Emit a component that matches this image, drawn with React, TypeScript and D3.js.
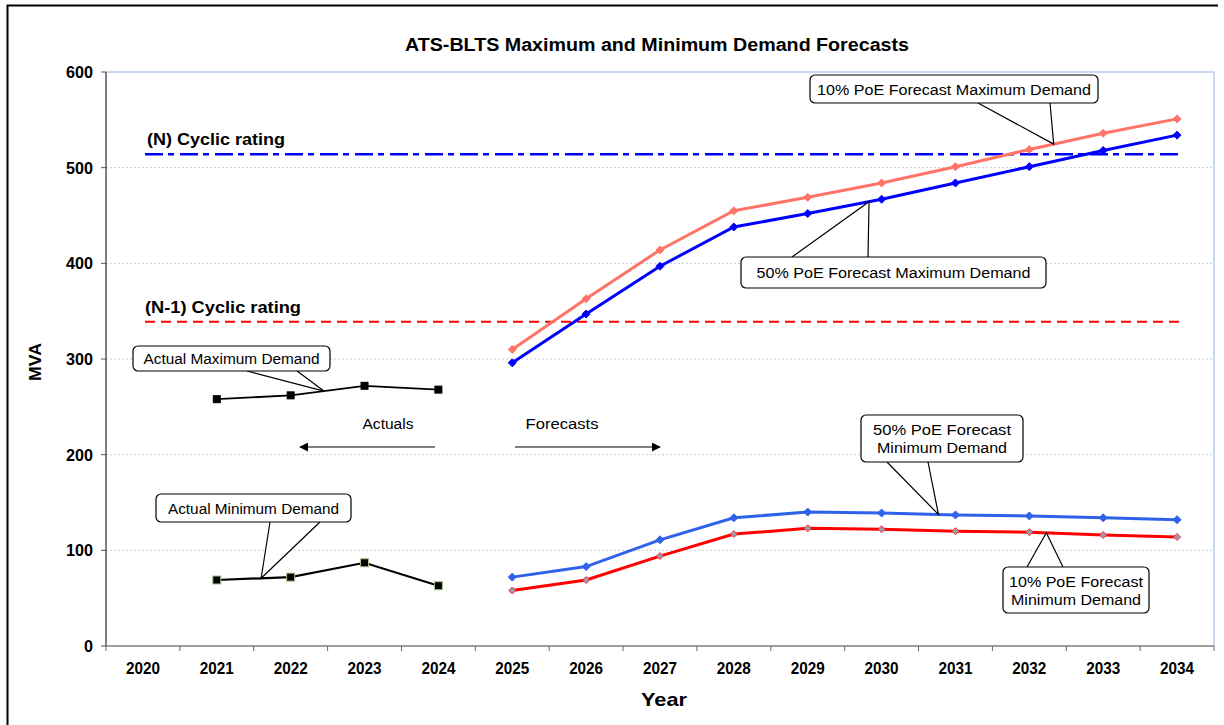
import React from "react";
import * as d3 from "d3";

// Category axis
const years = ["2020", "2021", "2022", "2023", "2024", "2025", "2026", "2027", "2028", "2029", "2030", "2031", "2032", "2033", "2034"];
const yTicks = [0, 100, 200, 300, 400, 500, 600];

// Historical demand (MVA)
const actualYears = ["2021", "2022", "2023", "2024"];
const actualMax = [258, 262, 272, 268];
const actualMin = [69, 72, 87, 63];

// Forecast demand (MVA)
const forecastYears = ["2025", "2026", "2027", "2028", "2029", "2030", "2031", "2032", "2033", "2034"];
const poe10Max = [310, 363, 414, 455, 469, 484, 501, 519, 536, 551];
const poe50Max = [296, 347, 397, 438, 452, 467, 484, 501, 518, 534];
const poe50Min = [72, 83, 111, 134, 140, 139, 137, 136, 134, 132];
const poe10Min = [58, 69, 94, 117, 123, 122, 120, 119, 116, 114];

// Ratings (MVA)
const nCyclic = 514;
const n1Cyclic = 339;

const FONT = "'Liberation Sans', Arial, sans-serif";

const W = 1224;
const H = 725;
const plot = { left: 106, right: 1214, top: 72, bottom: 646 };

const x = d3.scaleBand<string>().domain(years).range([plot.left, plot.right]).padding(0);
const y = d3.scaleLinear().domain([0, 600]).range([plot.bottom, plot.top]);
const cx = (yr: string) => (x(yr) as number) + x.bandwidth() / 2;
const cxNum = (yr: number) => cx("2020") + (yr - 2020) * x.step();

type Pt = [string, number];
const zipPts = (ys: string[], vs: number[]): Pt[] => ys.map((yr, i) => [yr, vs[i]]);

const line = d3
  .line<Pt>()
  .x((d) => cx(d[0]))
  .y((d) => y(d[1]));

// point on a series at a fractional year (used for callout tips)
function along(ys: string[], vs: number[], yr: number): [number, number] {
  const nums = ys.map(Number);
  const i = Math.max(0, Math.min(nums.length - 2, Math.floor(yr - nums[0])));
  const t = yr - nums[i];
  const v = vs[i] + (vs[i + 1] - vs[i]) * t;
  return [cxNum(yr), y(v)];
}

function Markers({ pts, kind, fill, stroke, size }: { pts: Pt[]; kind: "square" | "diamond"; fill: string; stroke: string; size: number }) {
  return (
    <g>
      {pts.map((d, i) => {
        const px = cx(d[0]);
        const py = y(d[1]);
        if (kind === "square") {
          return <rect key={i} x={px - size / 2} y={py - size / 2} width={size} height={size} fill={fill} stroke={stroke} strokeWidth={1} />;
        }
        const s = size / 2;
        return <path key={i} d={`M${px},${py - s}L${px + s},${py}L${px},${py + s}L${px - s},${py}Z`} fill={fill} stroke={stroke} strokeWidth={1} />;
      })}
    </g>
  );
}

function Callout({ box, lines, base, tip, textW }: { box: [number, number, number, number]; lines: string[]; base: [number, number]; tip: [number, number]; textW: number[] }) {
  const [bx, by, bw, bh] = box;
  const attachY = tip[1] > by ? by + bh : by;
  const lh = 18;
  const cy0 = by + bh / 2 - ((lines.length - 1) * lh) / 2;
  return (
    <g>
      <path d={`M${base[0]},${attachY}L${tip[0]},${tip[1]}L${base[1]},${attachY}`} fill="#fff" stroke="#000" strokeWidth={1.2} />
      <rect x={bx} y={by} width={bw} height={bh} rx={5} fill="#fff" stroke="#000" strokeWidth={1.2} />
      {lines.map((t, i) => (
        <text key={i} x={bx + bw / 2} y={cy0 + i * lh + 5.5} textAnchor="middle" fontFamily={FONT} fontSize={15.5} textLength={textW[i]} lengthAdjust="spacingAndGlyphs" fill="#000">
          {t}
        </text>
      ))}
    </g>
  );
}

export default function App() {
  const aMax = zipPts(actualYears, actualMax);
  const aMin = zipPts(actualYears, actualMin);
  const f10Max = zipPts(forecastYears, poe10Max);
  const f50Max = zipPts(forecastYears, poe50Max);
  const f50Min = zipPts(forecastYears, poe50Min);
  const f10Min = zipPts(forecastYears, poe10Min);

  const lineX0 = 145;
  const lineX1 = 1180;

  return (
    <svg width={W} height={H} style={{ position: "absolute", left: 0, top: 0, background: "#fff" }}>
      <defs>
        <marker id="arrow" viewBox="0 0 10 10" refX="9" refY="5" markerWidth="9" markerHeight="9" orient="auto-start-reverse" markerUnits="userSpaceOnUse">
          <path d="M0,0L10,5L0,10Z" fill="#000" />
        </marker>
      </defs>

      {/* chart frame */}
      <path d="M7.5,730V5.5H1218" fill="none" stroke="#000" strokeWidth={2} />

      {/* title */}
      <text x={657} y={51} textAnchor="middle" fontFamily={FONT} fontWeight="bold" fontSize={18} textLength={504} lengthAdjust="spacingAndGlyphs">
        ATS-BLTS Maximum and Minimum Demand Forecasts
      </text>

      {/* gridlines */}
      {yTicks
        .filter((t) => t > 0 && t < 600)
        .map((t) => (
          <line key={t} x1={plot.left} x2={plot.right} y1={y(t)} y2={y(t)} stroke="#C3CCDA" strokeWidth={1} strokeDasharray="2,2" />
        ))}
      {/* plot area border (top/right) */}
      <path d={`M${plot.left},${y(600)}H${plot.right}V${plot.bottom}`} fill="none" stroke="#B9CDE5" strokeWidth={1.5} />

      {/* y axis */}
      <line x1={plot.left} x2={plot.left} y1={plot.top} y2={plot.bottom} stroke="#1F2A44" strokeWidth={1.2} />
      {yTicks.map((t) => (
        <g key={t}>
          <line x1={plot.left - 5} x2={plot.left} y1={y(t)} y2={y(t)} stroke="#555" strokeWidth={1} />
          <text x={93} y={y(t) + 6} textAnchor="end" fontFamily={FONT} fontWeight="bold" fontSize={17} textLength={t === 0 ? 9 : 27} lengthAdjust="spacingAndGlyphs">
            {t}
          </text>
        </g>
      ))}
      <text transform={`translate(41,362) rotate(-90)`} textAnchor="middle" fontFamily={FONT} fontWeight="bold" fontSize={17} textLength={38} lengthAdjust="spacingAndGlyphs">
        MVA
      </text>

      {/* x axis */}
      <line x1={plot.left} x2={plot.right} y1={plot.bottom} y2={plot.bottom} stroke="#7F7F7F" strokeWidth={1.5} />
      {years.map((yr) => (
        <line key={"t" + yr} x1={x(yr) as number} x2={x(yr) as number} y1={plot.bottom} y2={plot.bottom + 5} stroke="#666" strokeWidth={1} />
      ))}
      <line x1={plot.right} x2={plot.right} y1={plot.bottom} y2={plot.bottom + 5} stroke="#666" strokeWidth={1} />
      {years.map((yr) => (
        <text key={yr} x={cx(yr)} y={674} textAnchor="middle" fontFamily={FONT} fontWeight="bold" fontSize={17} textLength={34} lengthAdjust="spacingAndGlyphs">
          {yr}
        </text>
      ))}
      <text x={664} y={706} textAnchor="middle" fontFamily={FONT} fontWeight="bold" fontSize={19} textLength={46} lengthAdjust="spacingAndGlyphs">
        Year
      </text>

      {/* rating lines */}
      <line x1={lineX0} x2={lineX1} y1={y(nCyclic)} y2={y(nCyclic)} stroke="#0000FF" strokeWidth={2.5} strokeDasharray="18,5,6,6" />
      <text x={147} y={145} fontFamily={FONT} fontWeight="bold" fontSize={17} textLength={138} lengthAdjust="spacingAndGlyphs">
        (N) Cyclic rating
      </text>
      <line x1={lineX0} x2={lineX1} y1={y(n1Cyclic)} y2={y(n1Cyclic)} stroke="#FF0000" strokeWidth={2} strokeDasharray="10,6" />
      <text x={145} y={313} fontFamily={FONT} fontWeight="bold" fontSize={17} textLength={156} lengthAdjust="spacingAndGlyphs">
        (N-1) Cyclic rating
      </text>

      {/* actual series */}
      <path d={line(aMax) ?? ""} fill="none" stroke="#000" strokeWidth={1.8} />
      <Markers pts={aMax} kind="square" fill="#000" stroke="#000" size={7} />
      <path d={line(aMin) ?? ""} fill="none" stroke="#000" strokeWidth={2.2} />
      <Markers pts={aMin} kind="square" fill="#000" stroke="#A9C08A" size={8} />

      {/* forecast series */}
      <path d={line(f10Max) ?? ""} fill="none" stroke="#FF7466" strokeWidth={3} />
      <Markers pts={f10Max} kind="diamond" fill="#FF7466" stroke="#FF7466" size={8} />
      <path d={line(f50Max) ?? ""} fill="none" stroke="#0000FF" strokeWidth={3} />
      <Markers pts={f50Max} kind="diamond" fill="#0000FF" stroke="#0000FF" size={8} />
      <path d={line(f50Min) ?? ""} fill="none" stroke="#2E62EA" strokeWidth={3} />
      <Markers pts={f50Min} kind="diamond" fill="#2E62EA" stroke="#2E62EA" size={8} />
      <path d={line(f10Min) ?? ""} fill="none" stroke="#FF0000" strokeWidth={3} />
      <Markers pts={f10Min} kind="diamond" fill="#9A9AB0" stroke="#FF3030" size={7} />

      {/* actuals / forecasts arrows */}
      <text x={388} y={429} textAnchor="middle" fontFamily={FONT} fontSize={15.5} textLength={51} lengthAdjust="spacingAndGlyphs">
        Actuals
      </text>
      <line x1={435} x2={300} y1={447} y2={447} stroke="#000" strokeWidth={1.2} markerEnd="url(#arrow)" />
      <text x={562} y={429} textAnchor="middle" fontFamily={FONT} fontSize={15.5} textLength={73} lengthAdjust="spacingAndGlyphs">
        Forecasts
      </text>
      <line x1={515} x2={660} y1={447} y2={447} stroke="#000" strokeWidth={1.2} markerEnd="url(#arrow)" />

      {/* callouts */}
      <Callout box={[133, 346, 197, 25]} lines={["Actual Maximum Demand"]} base={[247, 297]} tip={along(actualYears, actualMax, 2022.45)} textW={[176]} />
      <Callout box={[156, 494, 195, 28]} lines={["Actual Minimum Demand"]} base={[270, 320]} tip={along(actualYears, actualMin, 2021.6)} textW={[171]} />
      <Callout box={[810, 75, 288, 28]} lines={["10% PoE Forecast Maximum Demand"]} base={[978, 1050]} tip={along(forecastYears, poe10Max, 2032.33)} textW={[274]} />
      <Callout box={[741, 257, 305, 31]} lines={["50% PoE Forecast Maximum Demand"]} base={[792, 868]} tip={along(forecastYears, poe50Max, 2029.83)} textW={[274]} />
      <Callout box={[861, 415, 162, 47]} lines={["50% PoE Forecast", "Minimum Demand"]} base={[887, 928]} tip={along(forecastYears, poe50Min, 2030.77)} textW={[138, 130]} />
      <Callout box={[1003, 567, 146, 46]} lines={["10% PoE Forecast", "Minimum Demand"]} base={[1027, 1063]} tip={along(forecastYears, poe10Min, 2032.23)} textW={[134, 130]} />
    </svg>
  );
}
